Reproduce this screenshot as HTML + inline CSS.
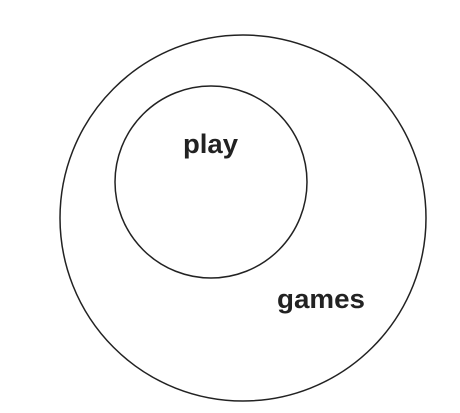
<!DOCTYPE html>
<html>
<head>
<meta charset="utf-8">
<style>
html,body{margin:0;padding:0;background:#fff;}
svg{display:block;}
text{font-family:"Liberation Sans","DejaVu Sans",sans-serif;fill:#222;font-weight:bold;}
</style>
</head>
<body>
<svg width="460" height="413" viewBox="0 0 460 413">
  <circle cx="243" cy="218" r="183" fill="none" stroke="#222" stroke-width="1.5"/>
  <circle cx="211" cy="182" r="96" fill="none" stroke="#222" stroke-width="1.5"/>
  <text x="183" y="153" font-size="27" textLength="55" lengthAdjust="spacingAndGlyphs">play</text>
  <text x="277" y="308" font-size="27" textLength="88" lengthAdjust="spacingAndGlyphs">games</text>
</svg>
</body>
</html>
